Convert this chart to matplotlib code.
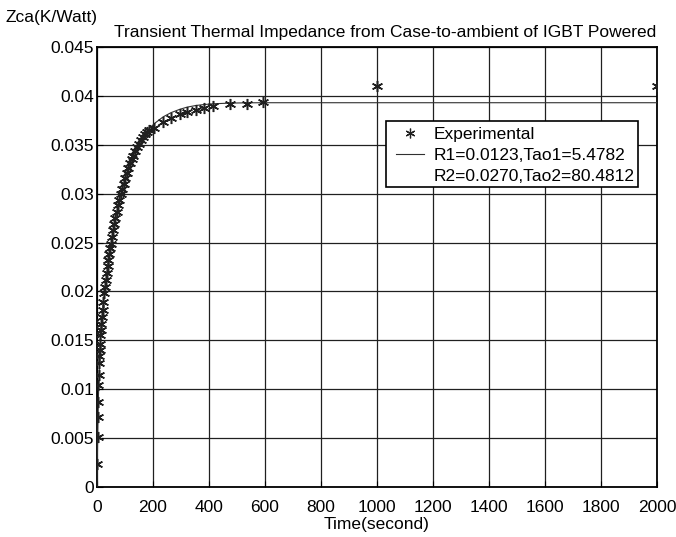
import matplotlib.pyplot as plt
from matplotlib.lines import Line2D
from matplotlib.patches import Rectangle

plt.rcParams["font.family"] = ["Liberation Sans", "DejaVu Sans"]

# experimental points (time in s, Zca in K/W)
exp_time = [1, 2, 3, 4, 5, 6, 7, 8, 9, 10, 12, 14, 16, 18, 20, 23, 26, 29, 32, 35,
            38, 41, 44, 47, 50, 54, 58, 62, 66, 70, 75, 80, 85, 90, 95, 100, 106,
            112, 118, 124, 130, 137, 144, 151, 158, 165, 172, 179, 185, 204, 236,
            264, 295, 322, 354, 381, 414, 474, 535, 594, 1000, 2000]
exp_zca = [0.0024, 0.0051, 0.0072, 0.0087, 0.0104, 0.0115, 0.0127, 0.0134, 0.0140,
           0.0146, 0.0155, 0.0161, 0.0167, 0.0174, 0.0181, 0.0189, 0.0198, 0.0205,
           0.0212, 0.0219, 0.0226, 0.0232, 0.0238, 0.0244, 0.0249, 0.0256, 0.0263,
           0.0269, 0.0275, 0.0281, 0.0288, 0.0294, 0.0300, 0.0305, 0.0310, 0.0316,
           0.0321, 0.0326, 0.0331, 0.0335, 0.0339, 0.0344, 0.0348, 0.0351, 0.0355,
           0.0358, 0.0361, 0.0363, 0.0365, 0.0367, 0.0373, 0.0377, 0.0381, 0.0384,
           0.0386, 0.0388, 0.0390, 0.0392, 0.0392, 0.0394, 0.0410, 0.0410]

# fitted curve
fit_time = [0, 1, 2, 3, 4, 5, 6, 8, 10, 12, 14, 16, 18, 20, 23, 26, 29, 32, 35, 38,
            41, 44, 47, 50, 54, 58, 62, 66, 70, 75, 80, 85, 90, 95, 100, 106, 112,
            118, 124, 130, 137, 144, 151, 158, 165, 172, 179, 185, 204, 236, 264,
            295, 322, 354, 381, 414, 474, 535, 594, 1000, 2000]
fit_zca = [0.0, 0.00238, 0.00443, 0.00618, 0.00768, 0.00899, 0.01012, 0.0120, 0.01347,
           0.01466, 0.01566, 0.01651, 0.01725, 0.01792, 0.01883, 0.01965, 0.02042,
           0.02113, 0.0218, 0.02246, 0.02308, 0.02367, 0.02424, 0.02479, 0.0255,
           0.02617, 0.0268, 0.02741, 0.02799, 0.02867, 0.02931, 0.02991, 0.03047,
           0.03101, 0.0315, 0.03206, 0.03259, 0.03307, 0.03352, 0.03393, 0.03438,
           0.03479, 0.03516, 0.03551, 0.03583, 0.03611, 0.03638, 0.03659, 0.03715,
           0.03785, 0.03828, 0.03862, 0.03885, 0.03902, 0.03911, 0.03919, 0.03926,
           0.03929, 0.0393, 0.0393, 0.0393]

fit_label = "R1=0.0123,Tao1=5.4782"
fit_label2 = "R2=0.0270,Tao2=80.4812"

FS = 12.5

fig = plt.figure(figsize=(6.76, 5.37), dpi=100)
ax = fig.add_axes([0.1435, 0.0931, 0.8285, 0.8194])

ax.plot(fit_time, fit_zca, color="#303030", lw=0.8, zorder=3)
ax.plot(exp_time, exp_zca, ls="none", marker=(6, 2, 0), ms=8, mew=1.1,
        color="#202020", zorder=4)

ax.set_xlim(0, 2000)
ax.set_ylim(0, 0.045)
ax.set_xticks(range(0, 2001, 200))
ax.set_yticks([i * 0.005 for i in range(10)])
ax.set_yticklabels(["0", "0.005", "0.01", "0.015", "0.02", "0.025", "0.03",
                    "0.035", "0.04", "0.045"])
ax.grid(True, color="#202020", lw=0.9, ls="-")
ax.tick_params(direction="in", labelsize=FS, length=4)
ax.tick_params(axis="y", pad=2)
ax.tick_params(axis="x", pad=9)
for s in ax.spines.values():
    s.set_linewidth(1.3)

ax.set_xlabel("Time(second)", fontsize=FS, labelpad=2)
fig.text(0.008, 0.967, "Zca(K/Watt)", fontsize=FS, ha="left", va="center")
ax.set_title("Transient Thermal Impedance from Case-to-ambient of IGBT Powered",
             fontsize=FS, pad=7, x=0.515)

# legend frame drawn by hand: the text runs past its right edge in the original
ax.add_patch(Rectangle((0.516, 0.682), 0.45, 0.150, transform=ax.transAxes,
                       facecolor="white", edgecolor="black", lw=1.2, zorder=5))
handles = [
    Line2D([], [], ls="none", marker=(6, 2, 0), ms=7, mew=0.9, color="#202020"),
    Line2D([], [], color="#303030", lw=0.8),
    Line2D([], [], ls="none"),
]
leg = ax.legend(handles, ["Experimental", fit_label, fit_label2],
                loc="upper left", bbox_to_anchor=(0.534, 0.819),
                borderaxespad=0, frameon=False, fontsize=FS, handlelength=1.6,
                labelspacing=0.33, borderpad=0, handletextpad=0.55)
leg.set_zorder(6)

fig.savefig("out.png", dpi=100)
